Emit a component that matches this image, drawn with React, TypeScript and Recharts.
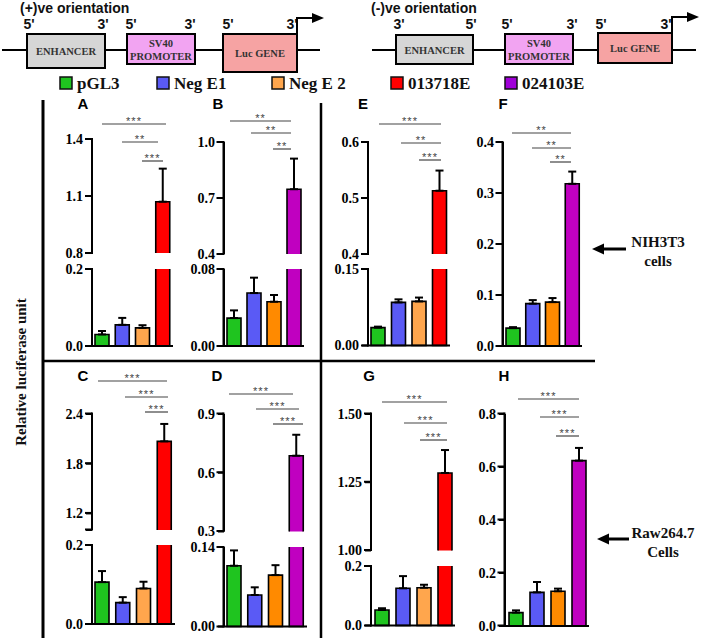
import React from "react";
import { BarChart, Bar, XAxis, YAxis, Cell, ErrorBar, ReferenceLine } from "recharts";

// groups shown in every panel
const groups = ["pGL3", "Neg E1", "Neg E 2", "Enhancer"];
const legendLabels = ["pGL3", "Neg E1", "Neg E 2", "013718E", "024103E"];

// mean / SEM
const meanA = [0.03, 0.055, 0.047, 1.07];
const semA = [0.009, 0.018, 0.007, 0.174];
const meanB = [0.029, 0.055, 0.046, 0.747];
const semB = [0.008, 0.016, 0.007, 0.164];
const meanE = [0.035, 0.0845, 0.0865, 0.513];
const semE = [0.002, 0.006, 0.0075, 0.036];
const meanF = [0.035, 0.083, 0.086, 0.318];
const semF = [0.002, 0.007, 0.008, 0.024];
const meanC = [0.106, 0.054, 0.09, 2.07];
const semC = [0.028, 0.014, 0.017, 0.21];
const meanD = [0.107, 0.0555, 0.0905, 0.687];
const semD = [0.027, 0.0135, 0.0175, 0.107];
const meanG = [0.052, 0.125, 0.127, 1.284];
const semG = [0.006, 0.041, 0.01, 0.084];
const meanH = [0.0505, 0.127, 0.131, 0.624];
const semH = [0.0085, 0.039, 0.01, 0.048];

// significance labels (top, middle, bottom bracket)
const sigA = ["***", "**", "***"];
const sigB = ["**", "**", "**"];
const sigE = ["***", "**", "***"];
const sigF = ["**", "**", "**"];
const sigC = ["***", "***", "***"];
const sigD = ["***", "***", "***"];
const sigG = ["***", "***", "***"];
const sigH = ["***", "***", "***"];

const GREEN = "#1fc41f";
const BLUE = "#5a5af5";
const ORANGE_L = "#ffa64d";
const ORANGE_D = "#ff8a00";
const RED = "#ff0000";
const PURPLE = "#c000c0";
const redSet = [GREEN, BLUE, ORANGE_L, RED];
const purpleSet = [GREEN, BLUE, ORANGE_D, PURPLE];
const legendColors = [GREEN, BLUE, ORANGE_L, RED, "#a000d8"];

const SERIF = "'Liberation Serif', 'Times New Roman', serif";
const SANS = "'Liberation Sans', Arial, sans-serif";

const panels = [
  {
    id: "A", mean: meanA, sem: semA, sig: sigA, colors: redSet, axisX: 92, plotW: 81, label: [83, 109],
    upper: { top: 139, bottom: 253, domain: [0.8, 1.4], ticks: [0.8, 1.1, 1.4], dec: 1 },
    lower: { top: 269, bottom: 346, domain: [0, 0.2], ticks: [0, 0.2], dec: 1 },
    lines: [[102, 166, 124], [122, 158, 142], [142, 163, 161]],
  },
  {
    id: "B", mean: meanB, sem: semB, sig: sigB, colors: purpleSet, axisX: 223.5, plotW: 80, label: [218, 109],
    upper: { top: 142, bottom: 254, domain: [0.4, 1.0], ticks: [0.4, 0.7, 1.0], dec: 1 },
    lower: { top: 269, bottom: 346, domain: [0, 0.08], ticks: [0, 0.08], dec: 2 },
    lines: [[230, 291, 121], [251, 291, 133], [273, 291, 149]],
  },
  {
    id: "E", mean: meanE, sem: semE, sig: sigE, colors: redSet, axisX: 368, plotW: 82, label: [363, 109],
    upper: { top: 142, bottom: 254, domain: [0.4, 0.6], ticks: [0.4, 0.5, 0.6], dec: 1 },
    lower: { top: 269, bottom: 345.5, domain: [0, 0.15], ticks: [0, 0.15], dec: 2 },
    lines: [[379, 441, 124], [401, 441, 143], [419, 441, 160]],
  },
  {
    id: "F", mean: meanF, sem: semF, sig: sigF, colors: purpleSet, axisX: 502.5, plotW: 79, label: [503, 109],
    single: { top: 142, bottom: 346, domain: [0, 0.4], ticks: [0, 0.1, 0.2, 0.3, 0.4], dec: 1 },
    lines: [[512, 571, 133], [532, 571, 148], [550, 571, 162]],
  },
  {
    id: "C", mean: meanC, sem: semC, sig: sigC, colors: redSet, axisX: 92, plotW: 83, label: [83, 381],
    upper: { top: 413.5, bottom: 529.5, domain: [1.0, 2.4], ticks: [1.0, 1.2, 1.8, 2.4], dec: 1, blank: 1.0 },
    lower: { top: 545, bottom: 624, domain: [0, 0.2], ticks: [0, 0.2], dec: 1 },
    lines: [[98, 167, 381], [125, 168, 397], [145, 168, 412]],
  },
  {
    id: "D", mean: meanD, sem: semD, sig: sigD, colors: purpleSet, axisX: 223.5, plotW: 83, label: [217, 381],
    upper: { top: 413.5, bottom: 531, domain: [0.3, 0.9], ticks: [0.3, 0.6, 0.9], dec: 1 },
    lower: { top: 547, bottom: 626.5, domain: [0, 0.14], ticks: [0, 0.14], dec: 2 },
    lines: [[229, 293, 394], [256, 299, 409], [273, 303, 424]],
  },
  {
    id: "G", mean: meanG, sem: semG, sig: sigG, colors: redSet, axisX: 371, plotW: 84, label: [369, 381],
    upper: { top: 413.5, bottom: 550, domain: [1.0, 1.5], ticks: [1.0, 1.25, 1.5], dec: 2 },
    lower: { top: 566, bottom: 625.5, domain: [0, 0.2], ticks: [0, 0.2], dec: 1 },
    lines: [[382, 447, 402], [404, 447, 423], [420, 447, 440]],
  },
  {
    id: "H", mean: meanH, sem: semH, sig: sigH, colors: purpleSet, axisX: 504.5, plotW: 84, label: [504, 381],
    single: { top: 413.5, bottom: 625.5, domain: [0, 0.8], ticks: [0, 0.2, 0.4, 0.6, 0.8], dec: 1 },
    lines: [[518, 579, 399], [540, 579, 417], [556, 579, 436]],
  },
];

// bar body with black outline; the edge that meets an axis break stays open
const barShape = (part: string) => (props: any) => {
  const { x, y, width, height, fill, payload } = props;
  if (height == null || isNaN(y) || Math.abs(height) < 0.5) return null;
  const b = y + height;
  let d = `M${x},${b}V${y}H${x + width}V${b}Z`;
  if (part === "upper") d = `M${x},${b}V${y}H${x + width}V${b}`;
  if (payload && payload.cut) d = `M${x},${y}V${b}H${x + width}V${y}`;
  return (
    <g>
      <rect x={x} y={y} width={width} height={height} fill={fill} />
      <path d={d} fill="none" stroke="#000" strokeWidth={1.6} />
    </g>
  );
};

function Segment({ axisX, plotW, seg, rows, colors, part }: any) {
  const M = 12;
  const YW = 50;
  const plotH = seg.bottom - seg.top;
  const fmt = (v: number) => (seg.blank !== undefined && v === seg.blank ? "" : v.toFixed(seg.dec));
  return (
    <div style={{ position: "absolute", left: axisX - YW, top: seg.top - M }}>
      <BarChart
        width={YW + plotW + M}
        height={plotH + 2 * M}
        data={rows}
        margin={{ top: M, right: M, bottom: M, left: 0 }}
        barSize={14}
      >
        <XAxis dataKey="name" hide />
        <YAxis
          type="number"
          width={YW}
          domain={seg.domain}
          ticks={seg.ticks}
          interval={0}
          stroke="#000"
          axisLine={{ stroke: "#000", strokeWidth: 2 }}
          tickLine={{ stroke: "#000", strokeWidth: 2 }}
          tickSize={6}
          tickMargin={3}
          tickFormatter={fmt}
          tick={{ fill: "#000", fontFamily: SERIF, fontSize: 14, fontWeight: "bold" }}
        />
        <Bar dataKey="v" isAnimationActive={false} shape={barShape(part)}>
          {rows.map((r: any, i: number) => (
            <Cell key={r.name} fill={colors[i]} />
          ))}
          <ErrorBar dataKey="e" width={4} strokeWidth={2} stroke="#000" direction="y" />
        </Bar>
        {part !== "upper" && (
          <ReferenceLine y={seg.domain[0]} stroke="#000" strokeWidth={2} />
        )}
      </BarChart>
    </div>
  );
}

// y axis spine and tick marks for one segment, same linear mapping as the chart
function Spine({ axisX, seg }: any) {
  const [d0, d1] = seg.domain;
  const py = (v: number) => seg.bottom - ((v - d0) / (d1 - d0)) * (seg.bottom - seg.top);
  return (
    <g>
      <rect x={axisX - 1} y={seg.top - 1} width={2} height={seg.bottom - seg.top + 2} fill="#000" />
      {seg.ticks.map((t: number) => (
        <rect key={t} x={axisX - 7} y={py(t) - 1} width={7} height={2} fill="#000" />
      ))}
    </g>
  );
}

function Panel({ p }: any) {
  const upperRows = groups.map((name, i) => ({
    name,
    v: i === 3 ? p.mean[i] : null,
    e: i === 3 ? [0, p.sem[i]] : null,
  }));
  // lower part of a broken axis: the tall bar is cut at the break
  const lowerRows = p.lower
    ? groups.map((name, i) => ({
        name,
        v: Math.min(p.mean[i], p.lower.domain[1]),
        e: i === 3 ? null : [0, p.sem[i]],
        cut: p.mean[i] > p.lower.domain[1],
      }))
    : [];
  const allRows = groups.map((name, i) => ({ name, v: p.mean[i], e: [0, p.sem[i]] }));
  return (
    <>
      {p.single ? (
        <Segment axisX={p.axisX} plotW={p.plotW} seg={p.single} rows={allRows} colors={p.colors} part="single" />
      ) : (
        <>
          <Segment axisX={p.axisX} plotW={p.plotW} seg={p.upper} rows={upperRows} colors={p.colors} part="upper" />
          <Segment axisX={p.axisX} plotW={p.plotW} seg={p.lower} rows={lowerRows} colors={p.colors} part="lower" />
        </>
      )}
    </>
  );
}

function Construct({ ox, labels, boxes, arrowX, arrowY, lineFrom, lineTo, title }: any) {
  return (
    <g>
      <text x={ox} y={13} fontFamily={SANS} fontWeight="bold" fontSize={14} fill="#111">{title}</text>
      <line x1={lineFrom} x2={lineTo} y1={50} y2={50} stroke="#000" strokeWidth={2} />
      {boxes.map((b: any, i: number) => (
        <g key={i}>
          <rect x={b.x} y={b.y} width={b.w} height={b.h} fill={b.fill} stroke="#000" strokeWidth={2} />
          {b.text.map((t: string, j: number) => (
            <text
              key={j}
              x={b.x + b.w / 2}
              y={b.text.length === 1 ? b.y + b.h / 2 + 4 : b.y + 13 + j * 13}
              textAnchor="middle"
              fontFamily={SERIF}
              fontWeight="bold"
              fontSize={10.5}
              fill="#333"
            >
              {t}
            </text>
          ))}
        </g>
      ))}
      {labels.map((l: any, i: number) => (
        <text key={i} x={l[0]} y={29} textAnchor="middle" fontFamily={SANS} fontWeight="bold" fontSize={14} fill="#111">
          {l[1]}
        </text>
      ))}
      <polyline points={`${arrowX},${arrowY + 16} ${arrowX},${arrowY} ${arrowX + 16},${arrowY}`} fill="none" stroke="#000" strokeWidth={2} />
      <polygon points={`${arrowX + 27},${arrowY} ${arrowX + 15},${arrowY - 5} ${arrowX + 15},${arrowY + 5}`} fill="#000" />
    </g>
  );
}

export default function App() {
  const legendX = [60, 157, 272, 391, 505];
  return (
    <div style={{ position: "absolute", left: 0, top: 0, width: 708, height: 644, background: "#fff" }}>
      <svg width={708} height={644} style={{ position: "absolute", left: 0, top: 0 }}>
        <Construct
          ox={20}
          title="(+)ve orientation"
          lineFrom={2}
          lineTo={320}
          arrowX={297}
          arrowY={18}
          labels={[[29, "5'"], [103, "3'"], [131, "5'"], [190, "3'"], [228, "5'"], [292, "3'"]]}
          boxes={[
            { x: 27, y: 34, w: 78, h: 34, fill: "#d6d6d6", text: ["ENHANCER"] },
            { x: 127, y: 34, w: 68, h: 30, fill: "#f2a4f2", text: ["SV40", "PROMOTER"] },
            { x: 223, y: 34, w: 74, h: 38, fill: "#f6a3a3", text: ["Luc GENE"] },
          ]}
        />
        <Construct
          ox={371}
          title="(-)ve orientation"
          lineFrom={372}
          lineTo={696}
          arrowX={672}
          arrowY={17}
          labels={[[399, "3'"], [471, "5'"], [507, "5'"], [572, "3'"], [601, "5'"], [666, "3'"]]}
          boxes={[
            { x: 396, y: 35, w: 77, h: 29, fill: "#d6d6d6", text: ["ENHANCER"] },
            { x: 505, y: 34, w: 68, h: 30, fill: "#f2a4f2", text: ["SV40", "PROMOTER"] },
            { x: 598, y: 33, w: 74, h: 30, fill: "#f6a3a3", text: ["Luc GENE"] },
          ]}
        />
        {legendLabels.map((l, i) => (
          <g key={l}>
            <rect x={legendX[i]} y={77} width={12} height={12} fill={legendColors[i]} stroke="#111" strokeWidth={1.5} />
            <text x={legendX[i] + 17} y={89} fontFamily={SERIF} fontWeight="bold" fontSize={17} fill="#111">
              {l}
            </text>
          </g>
        ))}
        {/* frame */}
        <line x1={43} x2={43} y1={100} y2={638} stroke="#000" strokeWidth={3} />
        <line x1={321} x2={321} y1={103} y2={638} stroke="#000" strokeWidth={2.5} />
        <line x1={43} x2={595} y1={361} y2={361} stroke="#000" strokeWidth={2.5} />
        <text
          transform="translate(26,372) rotate(-90)"
          textAnchor="middle"
          fontFamily={SERIF}
          fontWeight="bold"
          fontSize={15}
          fill="#111"
        >
          Relative luciferase unit
        </text>
        {panels.map((p) => (
          <g key={p.id}>
            <text x={p.label[0]} y={p.label[1]} textAnchor="middle" fontFamily={SANS} fontWeight="bold" fontSize={15} fill="#000">
              {p.id}
            </text>
            {p.lines.map((ln: number[], i: number) => (
              <g key={i}>
                <line x1={ln[0]} x2={ln[1]} y1={ln[2]} y2={ln[2]} stroke="#444" strokeWidth={1.2} />
                <text x={(ln[0] + ln[1]) / 2} y={ln[2] + 1} textAnchor="middle" fontFamily={SANS} fontSize={11} letterSpacing={1} fill="#444">
                  {p.sig[i]}
                </text>
              </g>
            ))}
          </g>
        ))}
        {/* cell-line arrows */}
        <line x1={626} x2={600} y1={249} y2={249} stroke="#000" strokeWidth={3} />
        <polygon points="592,249 604,243.5 604,254.5" fill="#000" />
        <text x={658} y={247} textAnchor="middle" fontFamily={SERIF} fontWeight="bold" fontSize={15} fill="#111">NIH3T3</text>
        <text x={658} y={266} textAnchor="middle" fontFamily={SERIF} fontWeight="bold" fontSize={15} fill="#111">cells</text>
        <line x1={629} x2={605} y1={539} y2={539} stroke="#000" strokeWidth={3} />
        <polygon points="597,539 609,533.5 609,544.5" fill="#000" />
        <text x={663} y={538} textAnchor="middle" fontFamily={SERIF} fontWeight="bold" fontSize={15} fill="#111">Raw264.7</text>
        <text x={663} y={557} textAnchor="middle" fontFamily={SERIF} fontWeight="bold" fontSize={15} fill="#111">Cells</text>
      </svg>
      {panels.map((p) => (
        <Panel key={p.id} p={p} />
      ))}
      <svg width={708} height={644} style={{ position: "absolute", left: 0, top: 0, pointerEvents: "none" }}>
        {panels.map((p: any) =>
          (p.single ? [p.single] : [p.upper, p.lower]).map((s: any, i: number) => (
            <Spine key={p.id + i} axisX={p.axisX} seg={s} />
          ))
        )}
      </svg>
    </div>
  );
}
